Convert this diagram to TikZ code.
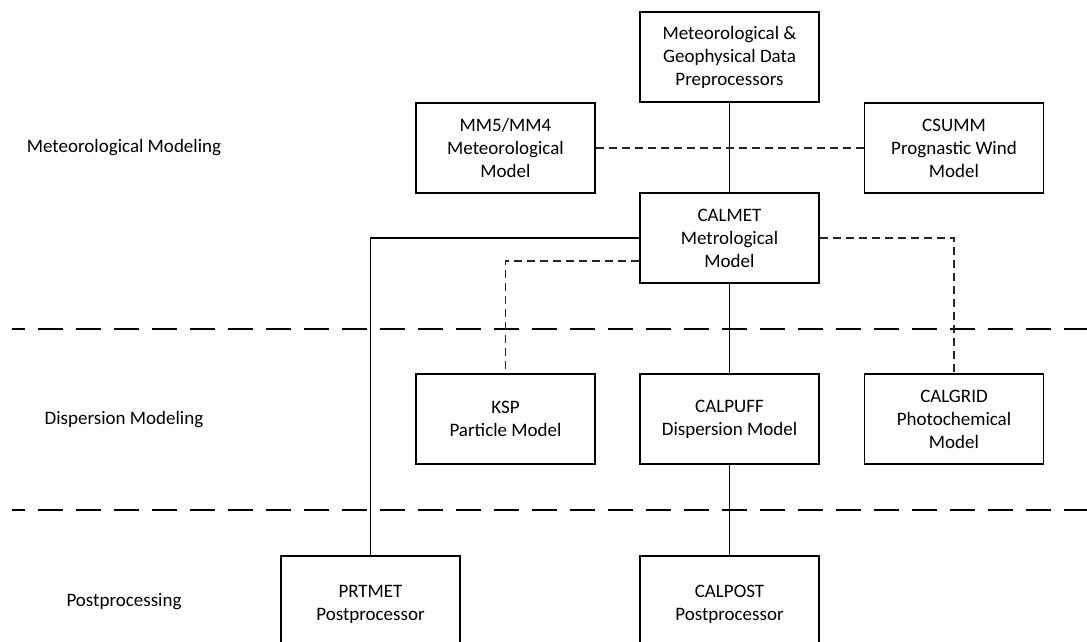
\documentclass[tikz,border=0pt]{standalone}
\usepackage{fontspec}
\setmainfont{Carlito}
\begin{document}
\begin{tikzpicture}[x=1pt,y=-1pt,
  box/.style={draw=black, line width=1.8pt, minimum width=179pt, minimum height=90pt,
    align=center, inner sep=0pt, font=\fontsize{19}{23}\selectfont},
  lowbox/.style={box, minimum height=96pt},
  lbl/.style={inner sep=0pt, font=\fontsize{19}{23}\selectfont},
  link/.style={draw=black, line width=1.2pt},
  dlink/.style={draw=black!85, line width=1.1pt, dash pattern=on 8pt off 5pt},
  sep/.style={draw=black, line width=1.5pt, dash pattern=on 25pt off 13pt, dash phase=12pt}]
\useasboundingbox[clip] (0,0) rectangle (1087,642);
\fill[white] (0,0) rectangle (1087,642);
% separators
\coordinate (s1a) at (12,329);
\coordinate (s1b) at (1087,329);
\coordinate (s2a) at (12,510);
\coordinate (s2b) at (1087,510);
\draw[sep] (s1a) -- (s1b);
\draw[sep] (s2a) -- (s2b);
% labels
\node[lbl] (lmet) at (124,148) {Meteorological Modeling};
\node[lbl] (ldisp) at (124,420) {Dispersion Modeling};
\node[lbl] (lpost) at (124,602) {Postprocessing};
% boxes
\node[box] (pre) at (729.5,57) {Meteorological \&\\Geophysical Data\\Preprocessors};
\node[box] (mm5) at (505.5,148) {MM5/MM4\\Meteorological\\Model};
\node[box] (csumm) at (954,148) {CSUMM\\Prognastic Wind\\Model};
\node[box] (calmet) at (729.5,238) {CALMET\\Metrological\\Model};
\node[box] (ksp) at (505.5,419) {KSP\\Particle Model};
\node[box] (calpuff) at (729.5,419) {CALPUFF\\Dispersion Model};
\node[box] (calgrid) at (954,419) {CALGRID\\Photochemical\\Model};
\node[lowbox] (prtmet) at (370.5,604) {PRTMET\\Postprocessor};
\node[lowbox] (calpost) at (729.5,604) {CALPOST\\Postprocessor};
% connectors
\draw[link] (pre.south) -- (calmet.north);
\draw[dlink] (mm5.east) -- (csumm.west);
\draw[link] (calmet.west) -| (prtmet.north);
\draw[dlink] ([yshift=-23pt]calmet.west) -| (ksp.north);
\draw[dlink] (calmet.east) -| (calgrid.north);
\draw[link] (calmet.south) -- (calpuff.north);
\draw[link] (calpuff.south) -- (calpost.north);
\end{tikzpicture}
\end{document}
